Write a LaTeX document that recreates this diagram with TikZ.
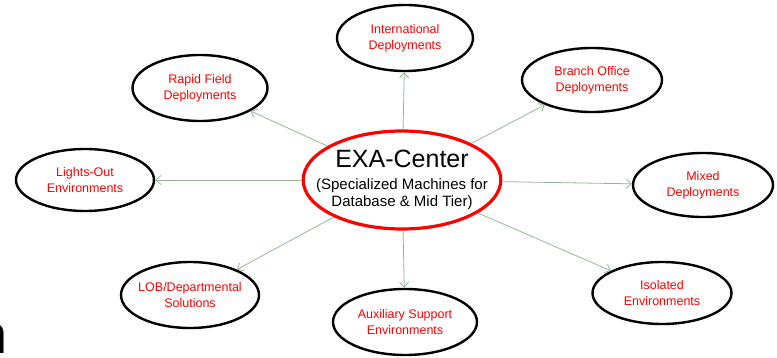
\documentclass[tikz,border=0pt]{standalone}
\usepackage{fontspec}
\setmainfont{Liberation Sans}
\usepackage{tikz}
\usetikzlibrary{shapes.geometric, arrows.meta, positioning}
\usepackage{xcolor}
\definecolor{myred}{RGB}{255, 0, 0}
\definecolor{mygreen}{RGB}{150, 182, 150}

\begin{document}
\begin{tikzpicture}[x=1pt, y=-1pt,
        outer/.style={ellipse, draw=black, line width=2.4pt, fill=white, inner xsep=-4pt, inner ysep=0pt, text=myred, align=center, font=\fontsize{12.5}{16}\selectfont},
        link/.style={draw=mygreen, line width=0.8pt, -{Straight Barb[length=5pt, width=9pt]}}]
        \useasboundingbox (0,0) rectangle (777,358);

        % --- EXA-Center in the middle ---
        \node[ellipse, draw=myred, line width=3.2pt, fill=white, inner xsep=-16pt, inner ysep=0pt, minimum width=196pt, minimum height=98pt, align=center, font=\fontsize{15}{17}\selectfont] (hub) at (402,180)
            {{\fontsize{25}{25}\selectfont EXA-Center}\\[5pt](Specialized Machines for\\Database \& Mid Tier)};

        % --- Deployments round the hub ---
        \node[outer, minimum width=136pt, minimum height=66pt] (intl) at (405,38) {International\\Deployments};
        \node[outer, minimum width=140pt, minimum height=64pt] (branch) at (592,80) {Branch Office\\Deployments};
        \node[outer, minimum width=140pt, minimum height=64pt] (mixed) at (703,185) {Mixed\\Deployments};
        \node[outer, minimum width=139pt, minimum height=62pt] (isolated) at (662,293) {Isolated\\Environments};
        \node[outer, minimum width=144pt, minimum height=66pt] (aux) at (405,322) {Auxiliary Support\\Environments};
        \node[outer, minimum width=138pt, minimum height=66pt] (lob) at (190,295) {LOB/Departmental\\Solutions};
        \node[outer, minimum width=138pt, minimum height=62pt] (lights) at (85,180) {Lights-Out\\Environments};
        \node[outer, minimum width=135pt, minimum height=66pt] (rapid) at (200,88) {Rapid Field\\Deployments};

        % Strzałki od środka
        \foreach \target in {intl, branch, mixed, isolated, aux, lob, lights, rapid}
            \draw[link] (hub) -- (\target);

        % Ucięta litera z lewej
        \node[anchor=base west, inner sep=0pt, font=\fontsize{54}{54}\selectfont] (cutoff) at (-23,353) {n};
\end{tikzpicture}
\end{document}
